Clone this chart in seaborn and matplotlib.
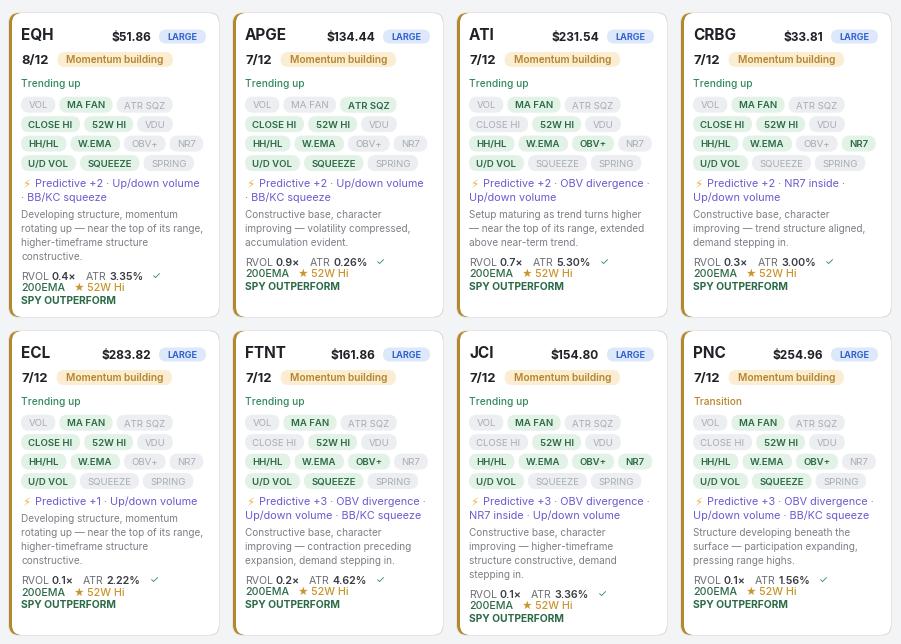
import matplotlib
matplotlib.use("Agg")
import matplotlib.pyplot as plt
from matplotlib.patches import FancyBboxPatch
import seaborn as sns

sns.set_theme(style="white")
plt.rcParams['font.family'] = ['Inter', 'DejaVu Sans']

# ---- data ----
tickers = ["EQH", "APGE", "ATI", "CRBG", "ECL", "FTNT", "JCI", "PNC"]
prices = [51.86, 134.44, 231.54, 33.81, 283.82, 161.86, 154.80, 254.96]
size_tags = ["LARGE"] * 8
scores = [8, 7, 7, 7, 7, 7, 7, 7]
phases = ["Momentum building"] * 8
trends = ["Trending up"] * 7 + ["Transition"]

chip_rows = [["VOL", "MA FAN", "ATR SQZ"],
             ["CLOSE HI", "52W HI", "VDU"],
             ["HH/HL", "W.EMA", "OBV+", "NR7"],
             ["U/D VOL", "SQUEEZE", "SPRING"]]
# on/off per chip, same order as chip_rows flattened
chip_on = [
    [0, 1, 0, 1, 1, 0, 1, 1, 0, 0, 1, 1, 0],  # EQH
    [0, 0, 1, 1, 1, 0, 1, 1, 0, 0, 1, 1, 0],  # APGE
    [0, 1, 0, 0, 1, 0, 1, 1, 1, 0, 1, 0, 0],  # ATI
    [0, 1, 0, 1, 1, 0, 1, 1, 0, 1, 1, 0, 0],  # CRBG
    [0, 1, 0, 1, 1, 0, 1, 1, 0, 0, 1, 0, 0],  # ECL
    [0, 1, 0, 0, 1, 0, 1, 1, 1, 0, 1, 1, 0],  # FTNT
    [0, 1, 0, 0, 1, 0, 1, 1, 1, 1, 1, 0, 0],  # JCI
    [0, 1, 0, 0, 1, 0, 1, 1, 1, 0, 1, 1, 0],  # PNC
]
pred_score = [2, 2, 2, 2, 1, 3, 3, 3]
pred_signals = [
    "Up/down volume\n· BB/KC squeeze",
    "Up/down volume\n· BB/KC squeeze",
    "OBV divergence ·\nUp/down volume",
    "NR7 inside ·\nUp/down volume",
    "Up/down volume",
    "OBV divergence ·\nUp/down volume · BB/KC squeeze",
    "OBV divergence ·\nNR7 inside · Up/down volume",
    "OBV divergence ·\nUp/down volume · BB/KC squeeze",
]
descs = [
    "Developing structure, momentum\nrotating up — near the top of its range,\nhigher-timeframe structure\nconstructive.",
    "Constructive base, character\nimproving — volatility compressed,\naccumulation evident.",
    "Setup maturing as trend turns higher\n— near the top of its range, extended\nabove near-term trend.",
    "Constructive base, character\nimproving — trend structure aligned,\ndemand stepping in.",
    "Developing structure, momentum\nrotating up — near the top of its range,\nhigher-timeframe structure\nconstructive.",
    "Constructive base, character\nimproving — contraction preceding\nexpansion, demand stepping in.",
    "Constructive base, character\nimproving — higher-timeframe\nstructure constructive, demand\nstepping in.",
    "Structure developing beneath the\nsurface — participation expanding,\npressing range highs.",
]
rvol = [0.4, 0.9, 0.7, 0.3, 0.1, 0.2, 0.1, 0.1]
atr = [3.35, 0.26, 5.30, 3.00, 2.22, 4.62, 3.36, 1.56]

# ---- colours ----
BG = '#f3f4f6'
INK = '#1f2227'
GOLD_BAR = '#b5882c'
GREEN = '#348a5c'
GREEN_DARK = '#2c6a47'
PURPLE = '#6b5bd0'
GREY = '#7c8087'

W, H = 901, 644
fig = plt.figure(figsize=(W / 100, H / 100), dpi=100)
fig.patch.set_facecolor(BG)
ax = fig.add_axes([0, 0, 1, 1])
ax.set_xlim(0, W)
ax.set_ylim(H, 0)
ax.axis('off')
ax.set_facecolor(BG)
rend = fig.canvas.get_renderer()


def put(x, y, s, size, color, weight='normal', ha='left'):
    # draw text on its baseline, return right edge (1 data unit == 1 px)
    t = ax.text(x, y, s, fontsize=size, color=color, fontweight=weight, va='baseline', ha=ha)
    bb = t.get_window_extent(rend)
    return ax.transData.inverted().transform((bb.x1, 0))[0]


def textw(s, size, weight='normal'):
    t = ax.text(0, 0, s, fontsize=size, fontweight=weight)
    w = t.get_window_extent(rend).width
    t.remove()
    return w


def cap(size):
    return 0.727 * size / 0.72


def pill(x, yc, w, h, fc):
    ax.add_patch(FancyBboxPatch((x, yc - h / 2), w, h, boxstyle=f"round,pad=0,rounding_size={h / 2}",
                                fc=fc, ec='none', lw=0))


def pill_text(x, yc, s, size, fg, bg, weight, pad, h):
    w = textw(s, size, weight) + 2 * pad
    pill(x, yc, w, h, bg)
    put(x + w / 2, yc + cap(size) / 2, s, size, fg, weight, ha='center')
    return x + w


CW, CH = 210, 304
for i in range(len(tickers)):
    r, c = divmod(i, 4)
    x0 = 9 + c * (CW + 14)
    y0 = 13 + r * (CH + 14)

    # card: border, gold accent, white body
    ax.add_patch(FancyBboxPatch((x0 - 1, y0 - 1), CW + 2, CH + 2, boxstyle="round,pad=0,rounding_size=11",
                                fc='#e4e6ea', ec='none'))
    ax.add_patch(FancyBboxPatch((x0, y0), CW, CH, boxstyle="round,pad=0,rounding_size=10",
                                fc=GOLD_BAR, ec='none'))
    ax.add_patch(FancyBboxPatch((x0 + 3, y0), CW - 3, CH, boxstyle="round,pad=0,rounding_size=10",
                                fc='white', ec='none'))
    L = x0 + 12

    # header
    put(L, y0 + 27, tickers[i], 11.0, INK, 'bold')
    bw = textw(size_tags[i], 6.5, 'bold') + 17
    bx = x0 + CW - 13 - bw
    pill_text(bx, y0 + 23.5, size_tags[i], 6.5, '#3263d1', '#dde8fb', 'bold', 8.5, 14)
    put(bx - 8, y0 + 28, f"${prices[i]:.2f}", 8.6, INK, 'bold', ha='right')

    e = put(L, y0 + 51, f"{scores[i]}/12", 9.4, INK, 'bold')
    pill_text(e + 9, y0 + 46.5, phases[i], 7.3, '#b8852c', '#fbedd2', 'semibold', 9, 15)

    tcol = GREEN if trends[i] == "Trending up" else '#b8852c'
    put(L, y0 + 73.5, trends[i], 7.3, tcol, 'medium')

    # chips
    k = 0
    for row, labels in enumerate(chip_rows):
        yc = y0 + 91.7 + row * 19.45
        x = L
        for lab in labels:
            on = chip_on[i][k]
            x = pill_text(x, yc, lab, 6.9, GREEN_DARK if on else '#a7abb1',
                          '#e3f2e7' if on else '#eceef1', 'semibold' if on else 'normal',
                          7.5, 16) + 4
            k += 1

    # predictive line(s)
    yb = y0 + 174.3
    e = put(L + 1, yb + 0.5, "⚡", 8.6, '#f2b441')
    lines = f"Predictive +{pred_score[i]} · {pred_signals[i]}".split('\n')
    put(e + 5, yb, lines[0], 7.8, PURPLE)
    for ln in lines[1:]:
        yb += 13.8
        put(L, yb, ln, 7.8, PURPLE)

    # description
    yb += 16.8
    dl = descs[i].split('\n')
    for j, ln in enumerate(dl):
        put(L, yb + j * 14.1, ln, 7.2, GREY)
    yb += (len(dl) - 1) * 14.1

    # metrics
    yb += 19.5
    e = put(L, yb, "RVOL", 7.6, '#6b6f76')
    e = put(e + 3, yb, f"{rvol[i]:.1f}×", 7.7, '#393c42', 'semibold')
    e = put(e + 9, yb, "ATR", 7.6, '#6b6f76')
    e = put(e + 3, yb, f"{atr[i]:.2f}%", 7.7, '#393c42', 'semibold')
    put(e + 9, yb, "✓", 7.3, GREEN)
    yb += 11.6
    e = put(L, yb, "200EMA", 7.7, GREEN_DARK, 'medium')
    e = put(e + 8, yb, "★", 7.3, '#c9952b')
    put(e + 3, yb, "52W Hi", 7.7, '#c9952b', 'medium')
    yb += 12.6
    put(L, yb, "SPY OUTPERFORM", 7.4, GREEN_DARK, 'bold')

fig.savefig("out.png", dpi=100, facecolor=BG)
